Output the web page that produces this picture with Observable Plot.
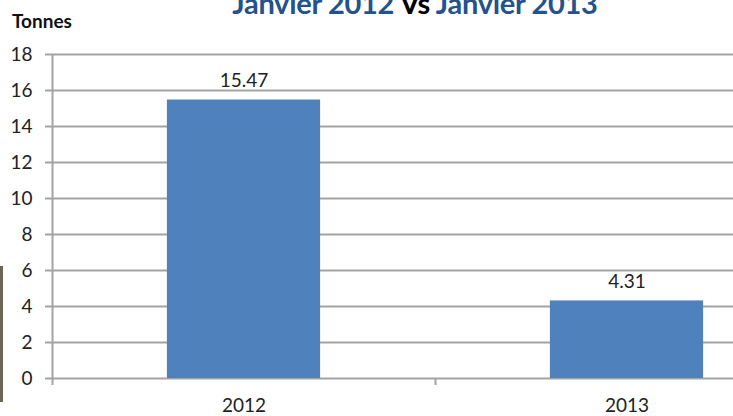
<!DOCTYPE html>
<html>
<head>
<meta charset="utf-8">
<script src="https://cdn.jsdelivr.net/npm/d3@7"></script>
<script src="https://cdn.jsdelivr.net/npm/@observablehq/plot@0.6"></script>
<style>
  html, body { margin: 0; padding: 0; background: #fff; overflow: hidden; }
  #wrap { position: relative; width: 733px; height: 416px; overflow: hidden; }
  #title { position: absolute; left: 0; width: 830px; top: -15px; text-align: center;
    font-family: Lato, sans-serif; font-weight: bold; font-size: 29px; color: #24528b; white-space: nowrap; letter-spacing: -0.3px; }
  #title .vs { color: #000; }
  #unit { position: absolute; left: 12px; top: 9px; font-family: Lato, sans-serif; font-weight: bold;
    font-size: 19px; color: #111; }
  #strip { position: absolute; left: 0; top: 266px; width: 3px; height: 136px; background: #6e6654; }
</style>
</head>
<body>
<div id="wrap">
  <div id="chart"></div>
  <div id="title">Janvier 2012 <span class="vs">Vs</span> Janvier 2013</div>
  <div id="unit">Tonnes</div>
  <div id="strip"></div>
</div>
<script>
const categories = ["2012", "2013"];
const values = [15.47, 4.31];
const yTicks = [0, 2, 4, 6, 8, 10, 12, 14, 16, 18];
const boundaries = [0, 1, 2];

const data = categories.map((c, i) => ({ i, category: c, value: values[i] }));

const gridColor = "#a3a3a3";
const plot = Plot.plot({
  width: 733,
  height: 416,
  marginTop: 54,
  marginBottom: 38,
  marginLeft: 52,
  marginRight: 0,
  style: { fontFamily: "Lato, sans-serif", fontSize: "19px", color: "#222", background: "#fff" },
  x: { type: "linear", domain: [0, 2], range: [52, 818] },
  y: { domain: [0, 18], ticks: yTicks },
  marks: [
    Plot.gridY(yTicks, { stroke: gridColor, strokeWidth: 2, strokeOpacity: 1 }),
    Plot.axisY(yTicks, { tickSize: 7, tickPadding: 13, stroke: gridColor, strokeWidth: 2, fill: "#222", fontSize: 19, label: null }),
    Plot.ruleX([0], { stroke: gridColor, strokeWidth: 2 }),
    Plot.axisX(boundaries, { tickSize: 7, stroke: gridColor, strokeWidth: 2, tickFormat: () => "", label: null }),
    Plot.axisX(data.map(d => d.i + 0.5), { tickSize: 0, tickPadding: 20, tickFormat: v => categories[Math.floor(v)], fill: "#222", fontSize: 19, label: null }),
    Plot.rectY(data, { x1: d => d.i + 0.3, x2: d => d.i + 0.7, y1: 0, y2: "value", fill: "#4f81bd" }),
    Plot.text(data, { x: d => d.i + 0.5, y: "value", text: d => String(d.value), dy: -19, fill: "#222", fontSize: 19 })
  ]
});
document.getElementById("chart").appendChild(plot);
</script>
</body>
</html>
